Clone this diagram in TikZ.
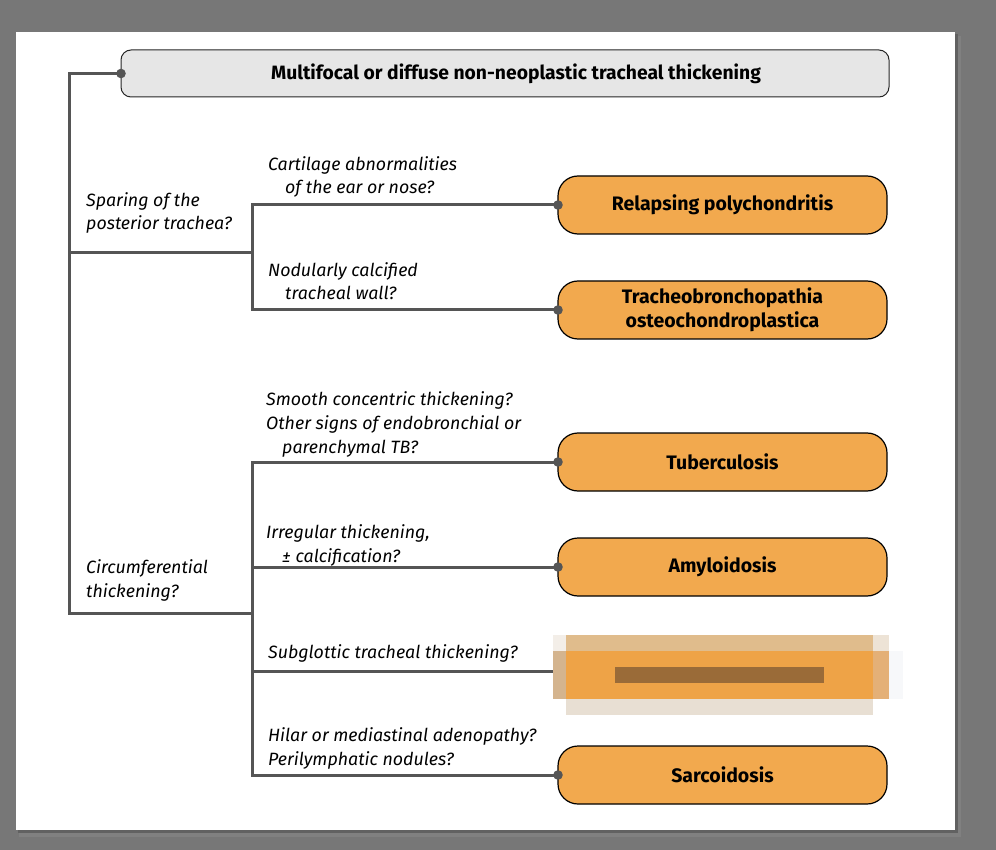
\documentclass[tikz,border=0pt]{standalone}
\usepackage{fontspec}
\setmainfont{Fira Sans}
\usepackage{tikz}
\usetikzlibrary{positioning}
\usepackage{xcolor}
\definecolor{deskgrey}{HTML}{777777}
\definecolor{linegrey}{HTML}{555555}
\definecolor{headgrey}{HTML}{E6E6E6}
\definecolor{dxorange}{HTML}{F2A94E}
\definecolor{pix-a}{HTML}{F3EEE8}
\definecolor{pix-b}{HTML}{E0BC8C}
\definecolor{pix-c}{HTML}{EDE3D6}
\definecolor{pix-d}{HTML}{D4B48E}
\definecolor{pix-e}{HTML}{EEA347}
\definecolor{pix-f}{HTML}{E4B077}
\definecolor{pix-g}{HTML}{F7F8FA}
\definecolor{pix-h}{HTML}{9A6B38}
\definecolor{pix-i}{HTML}{E8DFD3}
\tikzstyle{branch} = [line width=3pt, draw=linegrey]

\begin{document}
\begin{tikzpicture}[
    x=1pt, y=-1pt,
    top-box/.style={draw=black!85, line width=1pt, fill=headgrey, rounded corners=10pt, minimum width=768pt, minimum height=47pt, inner sep=0pt, outer sep=0pt},
    dx-box/.style={draw=black, line width=1.2pt, fill=dxorange, rounded corners=20pt, minimum width=329pt, minimum height=58pt, inner sep=0pt, outer sep=0pt, align=center, font=\fontsize{19.5}{23.5}\selectfont\bfseries},
    question/.style={anchor=base west, align=left, inner sep=0pt, font=\fontsize{17.8}{23.8}\selectfont\itshape}
  ]

  % page on the desk
  \useasboundingbox (0,0) rectangle (996,850);
  \fill[deskgrey] (0,0) rectangle (996,850);
  \fill[black!50] (19,36) rectangle (961,837);
  \fill[black!62] (18,34) rectangle (958,833);
  \fill[white] (16,32) rectangle (955,830);

  \node[top-box] (start) at (505,73.5) {};
  \node[font=\fontsize{19.3}{21}\selectfont\bfseries] (start-text) at ([xshift=11pt]start.center) {Multifocal or diffuse non-neoplastic tracheal thickening};

  \node[dx-box] (rp) at (722.5,205) {Relapsing polychondritis};
  \node[dx-box, below=47pt of rp] (tocp) {Tracheobronchopathia\\osteochondroplastica};
  \node[dx-box, below=94pt of tocp] (tb) {Tuberculosis};
  \node[dx-box, below=47pt of tb] (amy) {Amyloidosis};
  \node[dx-box, draw=none, fill=none, below=46pt of amy] (subg) {};
  \node[dx-box, below=46pt of subg] (sar) {Sarcoidosis};

  % questions, placed at the baseline of their last line
  \node[question] (q-spare) at (86,230) {Sparing of the\\posterior trachea?};
  \node[question] (q-ear) at (268,194) {Cartilage abnormalities\\\hspace*{17pt}of the ear or nose?};
  \node[question] (q-nod) at (268,300) {Nodularly calcified\\\hspace*{17pt}tracheal wall?};
  \node[question] (q-tb) at (266,453) {Smooth concentric thickening?\\Other signs of endobronchial or\\\hspace*{16pt}parenchymal TB?};
  \node[question] (q-irr) at (266,562) {Irregular thickening,\\\hspace*{16pt}± calcification?};
  \node[question] (q-circ) at (86,597) {Circumferential\\thickening?};
  \node[question] (q-subg) at (268,658) {Subglottic tracheal thickening?};
  \node[question] (q-sar) at (268,765) {Hilar or mediastinal adenopathy?\\Perilymphatic nodules?};

  % connectors
  \coordinate (trunk) at (69,613);
  \coordinate (fork-a) at (252,253);
  \coordinate (fork-b) at (252,613);
  \draw[branch] (start.west) -| (trunk) -- (fork-b);
  \draw[branch] (fork-a -| trunk) -- (fork-a);
  \draw[branch] (rp.west) -| (fork-a) |- (tocp.west);
  \draw[branch] (tb.west) -| (fork-b) |- (sar.west);
  \draw[branch] (amy.west) -- (amy.west -| fork-b);
  \draw[branch] (subg.west) -- (subg.west -| fork-b);
  \foreach \n in {start, rp, tocp, tb, amy, sar}
    \fill[linegrey] (\n.west) circle (4.8pt);

  % pixelated box
  \fill[pix-a] (553,635) rectangle (566,651);
  \fill[pix-b] (566,635) rectangle (873,651);
  \fill[pix-c] (873,635) rectangle (889,651);
  \fill[pix-d] (553,651) rectangle (566,699);
  \fill[pix-e] (566,651) rectangle (873,699);
  \fill[pix-f] (873,651) rectangle (889,699);
  \fill[pix-g] (889,651) rectangle (903,699);
  \fill[pix-h] (615,667) rectangle (824,683);
  \fill[pix-i] (566,699) rectangle (873,715);

\end{tikzpicture}
\end{document}
